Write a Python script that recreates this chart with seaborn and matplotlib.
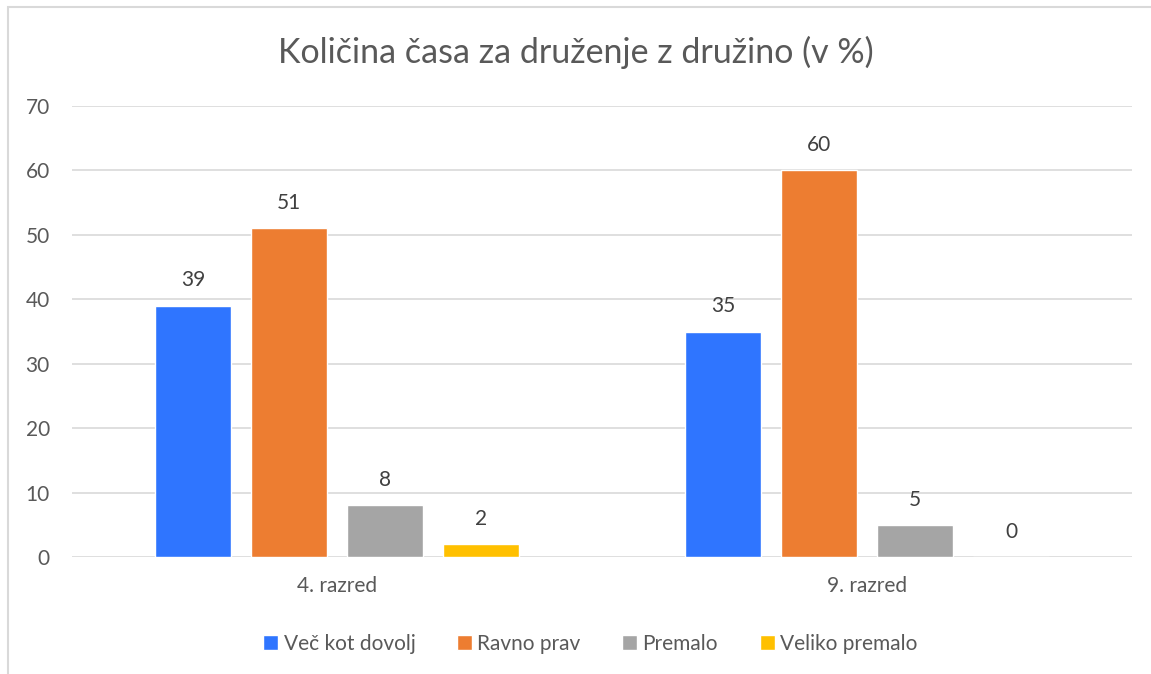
import pandas as pd
import matplotlib.pyplot as plt
import seaborn as sns
from matplotlib.patches import Rectangle

# data
razredi = ["4. razred", "9. razred"]
odgovori = ["Več kot dovolj", "Ravno prav", "Premalo", "Veliko premalo"]
vec_kot_dovolj = [39, 35]
ravno_prav = [51, 60]
premalo = [8, 5]
veliko_premalo = [2, 0]
barve = ["#2F75FF", "#ED7D31", "#A5A5A5", "#FFC000"]

TEXT = "#595959"
FS = 15


def build_frame() -> pd.DataFrame:
    rows = []
    for name, vals in zip(odgovori, [vec_kot_dovolj, ravno_prav, premalo, veliko_premalo]):
        for r, v in zip(razredi, vals):
            rows.append({"razred": r, "odgovor": name, "delez": v})
    return pd.DataFrame(rows)


def main() -> None:
    sns.set_theme(style="white")
    plt.rcParams["font.family"] = ["Lato", "DejaVu Sans"]

    df = build_frame()

    fig = plt.figure(figsize=(11.51, 6.74), dpi=100)
    ax = fig.add_axes([72 / 1151, 1 - 557 / 674, 1060 / 1151, 451 / 674])

    sns.barplot(
        data=df, x="razred", y="delez", hue="odgovor",
        order=razredi, hue_order=odgovori, palette=barve,
        width=0.725, gap=0.21, ax=ax, saturation=1, errorbar=None,
    )

    for cont in ax.containers:
        ax.bar_label(cont, fmt="%d", padding=11, fontsize=FS, color="#404040")

    ax.set_xlim(-0.5, 1.5)
    ax.set_ylim(0, 70)
    ax.set_yticks(range(0, 71, 10))
    ax.yaxis.grid(True, color="#D9D9D9", linewidth=1.2)
    ax.set_axisbelow(True)
    for side in ["top", "right", "left", "bottom"]:
        ax.spines[side].set_visible(False)
    ax.tick_params(axis="both", length=0, labelsize=FS, labelcolor=TEXT)
    ax.tick_params(axis="y", pad=16)
    ax.tick_params(axis="x", pad=14)
    ax.set_xlabel("")
    ax.set_ylabel("")

    fig.text(0.5, 1 - 52 / 674, "Količina časa za druženje z družino (v %)",
             ha="center", va="center", fontsize=24.5, color=TEXT)

    handles, labels = ax.get_legend_handles_labels()
    ax.legend(handles, labels, loc="center", bbox_to_anchor=(0.489, -0.193),
              ncol=4, frameon=False, fontsize=FS, labelcolor=TEXT,
              handlelength=0.72, handleheight=0.72, handletextpad=0.25,
              columnspacing=2.0)

    fig.patches.append(Rectangle((8 / 1151, -0.1), 1.2, 1 - 7 / 674 + 0.1,
                                 transform=fig.transFigure, fill=False,
                                 edgecolor="#D9D9D9", linewidth=1.5))

    fig.savefig("out.png", dpi=100, facecolor="white")
    plt.close(fig)


if __name__ == "__main__":
    main()
